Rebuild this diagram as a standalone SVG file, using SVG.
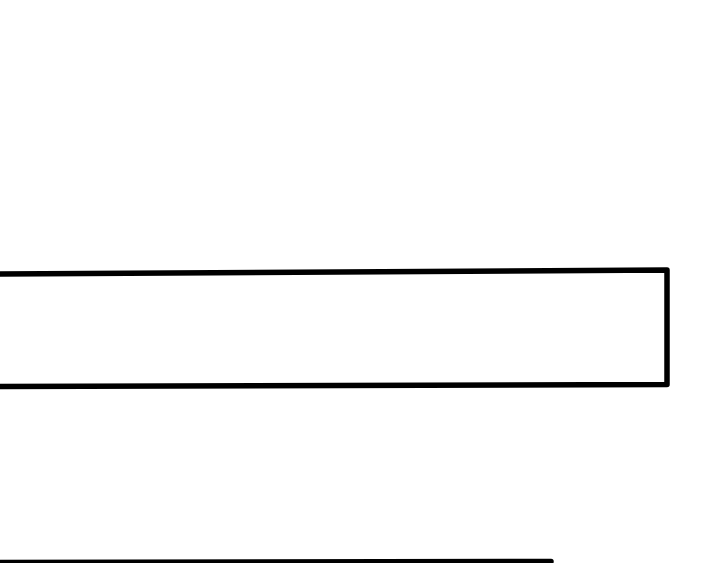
<svg xmlns="http://www.w3.org/2000/svg" width="720" height="563" viewBox="0 0 720 563">
<style>.s{fill:none;stroke:#000;stroke-width:5.5;stroke-linecap:round;stroke-linejoin:round}</style>
<rect width="720" height="563" fill="#fff"/>
<g id="box">
<path class="s" d="M-5,274 L667,270 L667,384.5 L-5,386.5"/>
</g>
<g id="bottom-line">
<path class="s" d="M-5,562.5 L551,561.5"/>
</g>
<g id="connectors"/>
</svg>
